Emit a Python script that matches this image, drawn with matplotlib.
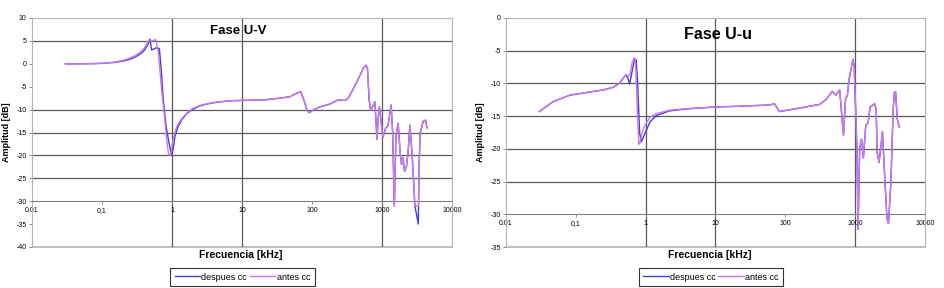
import matplotlib
matplotlib.use("Agg")
import matplotlib.pyplot as plt
import numpy as np

plt.rcParams['font.family'] = ['Liberation Sans', 'DejaVu Sans']
plt.rcParams['axes.unicode_minus'] = False

# --- Fase U-V ---
uv_f_lo_despues = [0.03, 0.05, 0.08, 0.1, 0.15, 0.2, 0.25, 0.3, 0.35, 0.4, 0.45, 0.485, 0.51,
                   0.56, 0.6, 0.66, 0.7, 0.75, 0.82, 0.89, 0.95, 0.99, 1.04, 1.1, 1.2, 1.37,
                   1.6, 1.9, 2.4, 3.1, 4.5, 7.4]
uv_lo_despues = [0.0, 0.0, 0.05, 0.1, 0.3, 0.6, 1.0, 1.5, 2.1, 2.9, 4.1, 5.4, 3.0,
                 3.3, 3.5, 3.3, -1.0, -7.9, -13.5, -16.6, -18.8, -19.9, -18.5, -15.9, -14.0, -12.3,
                 -11.0, -10.1, -9.3, -8.8, -8.35, -8.05]
uv_f_lo_antes = [0.03, 0.05, 0.08, 0.1, 0.15, 0.2, 0.25, 0.3, 0.35, 0.4, 0.44, 0.46, 0.53,
                 0.58, 0.6, 0.64, 0.71, 0.78, 0.84, 0.89, 0.94, 0.98, 1.02, 1.1, 1.17, 1.3,
                 1.45, 1.7, 2.0, 2.5, 3.2, 4.5, 7.4]
uv_lo_antes = [0.0, 0.0, 0.05, 0.1, 0.35, 0.75, 1.25, 1.8, 2.5, 3.4, 4.4, 5.0, 5.0,
               5.3, 4.6, 2.3, -5.7, -11.5, -16.6, -19.6, -20.0, -19.2, -17.0, -15.0, -13.7, -12.5,
               -11.6, -10.5, -9.7, -9.1, -8.7, -8.3, -8.05]
uv_f_hi = [10, 20, 35, 48, 63, 69, 75, 85, 91, 104, 130, 180, 235, 297, 330, 440, 540, 590,
           620, 655, 690, 730, 790, 850, 880, 920, 1030, 1130, 1220, 1350, 1420, 1500, 1580,
           1700, 1810, 1900, 2000, 2100, 2230, 2370, 2500, 2700, 2950, 3300, 3400, 3510, 3900,
           4200, 4400]
uv_hi_despues = [-8.0, -7.9, -7.5, -7.2, -6.3, -6.1, -7.5, -10.1, -10.7, -10.1, -9.4, -8.8,
                 -7.9, -8.0, -7.5, -3.9, -1.0, -0.3, -1.0, -7.9, -10.1, -9.4, -8.3, -16.5, -12.0,
                 -9.4, -16.0, -14.0, -13.5, -9.0, -15.0, -31.0, -16.0, -13.0, -19.0, -22.0, -20.5,
                 -23.5, -22.5, -19.0, -13.4, -20.0, -31.0, -35.0, -21.5, -15.0, -12.5, -12.3, -14.0]
uv_hi_antes = [-8.0, -7.9, -7.5, -7.2, -6.3, -6.1, -7.5, -10.1, -10.7, -10.1, -9.4, -8.8,
               -7.9, -8.0, -7.5, -3.9, -1.0, -0.3, -1.0, -7.9, -10.1, -9.4, -8.3, -16.5, -12.0,
               -9.4, -16.0, -14.0, -13.5, -9.0, -15.0, -31.0, -16.0, -13.0, -19.0, -22.0, -20.5,
               -23.5, -22.5, -19.0, -13.4, -20.0, -31.0, -31.0, -21.5, -15.0, -12.5, -12.3, -14.0]

# --- Fase U-u ---
uu_f_lo_despues = [0.03, 0.047, 0.082, 0.14, 0.245, 0.34, 0.42, 0.5, 0.525, 0.56, 0.59, 0.63,
                   0.66, 0.70, 0.73, 0.76, 0.78, 0.82, 0.87, 0.92, 1.0, 1.15, 1.42, 2.2, 3.8, 10]
uu_lo_despues = [-14.3, -12.8, -11.8, -11.4, -11.0, -10.6, -10.0, -8.9, -8.7, -9.3, -10.1, -8.5,
                 -7.4, -6.2, -6.4, -9.0, -12.0, -17.6, -18.9, -18.3, -17.4, -15.9, -14.9, -14.2,
                 -13.9, -13.6]
uu_f_lo_antes = [0.03, 0.047, 0.082, 0.14, 0.245, 0.34, 0.42, 0.5, 0.525, 0.56, 0.6, 0.64,
                 0.68, 0.71, 0.74, 0.77, 0.8, 0.83, 0.87, 0.92, 1.0, 1.15, 1.42, 2.2, 3.8, 10]
uu_lo_antes = [-14.3, -12.8, -11.8, -11.4, -11.0, -10.6, -10.0, -8.9, -8.6, -9.0, -8.5, -6.8,
               -6.1, -6.3, -10.5, -16.0, -19.3, -19.1, -18.0, -17.0, -16.2, -15.2, -14.6, -14.1,
               -13.85, -13.6]
uu_f_hi = [20, 59, 70, 82, 105, 175, 310, 380, 470, 530, 600, 680, 730, 770, 820, 930, 970,
           1060, 1100, 1160, 1230, 1310, 1420, 1530, 1640, 1800, 1900, 2000, 2060, 2200, 2460,
           2650, 2850, 3000, 3250, 3500, 3650, 3800, 4000, 4300]
uu_hi = [-13.5, -13.3, -13.1, -14.3, -14.1, -13.7, -13.2, -12.5, -11.2, -11.8, -11.0, -17.9,
         -12.2, -12.0, -9.3, -6.3, -7.5, -20.0, -32.3, -20.0, -18.5, -21.4, -16.4, -16.0, -13.6,
         -13.3, -13.1, -14.0, -20.5, -22.1, -17.4, -24.3, -30.6, -31.4, -25.0, -14.0, -11.3,
         -11.3, -15.4, -16.7]

decades = [0.01, 0.1, 1, 10, 100, 1000, 10000]
decade_labels = ['0.01', '0,1', '1', '10', '100', '1000', '10000']
vgrid = [1, 10, 1000]

c_despues = '#4040d0'
c_antes = '#cc77ee'
frame = '#b4b4b4'
gridc = '#5a5a5a'

fig = plt.figure(figsize=(9.45, 2.88), dpi=100)
ax1 = fig.add_axes([32 / 945, 41 / 288, 420 / 945, 229 / 288])
ax2 = fig.add_axes([506 / 945, 41 / 288, 419 / 945, 229 / 288])


def setup(ax, ylim, yticks, hgrid, title, tpos, tsize, cx):
    ax.set_xscale('log')
    ax.set_xlim(0.01, 10000)
    ax.set_ylim(*ylim)
    ax.set_xticks(decades)
    ax.set_xticklabels(decade_labels)
    ax.xaxis.set_minor_locator(matplotlib.ticker.NullLocator())
    ax.set_yticks(yticks)
    ax.tick_params(axis='both', labelsize=5, length=2, width=0.6, color='#808080', pad=2)
    for s in ['left', 'top', 'right']:
        ax.spines[s].set_color(frame)
        ax.spines[s].set_linewidth(0.8)
    ax.spines['bottom'].set_position(('data', -30))
    ax.spines['bottom'].set_color('#808080')
    ax.spines['bottom'].set_linewidth(0.8)
    ax.axhline(ylim[0], color=frame, lw=1.2, clip_on=False, zorder=1)
    for v in vgrid:
        ax.axvline(v, color=gridc, lw=0.9, zorder=1)
    for h in hgrid:
        ax.axhline(h, color=gridc, lw=0.9, zorder=1)
    ax.text(tpos[0], tpos[1], title, transform=ax.transAxes, ha='center', va='center',
            fontsize=tsize, fontweight='bold')
    ax.set_ylabel('Amplitud [dB]', fontsize=6.5, fontweight='bold')
    ax.yaxis.set_label_coords(-0.05, 0.5)
    ax.set_xlabel('Frecuencia [kHz]', fontsize=7.5, fontweight='bold')
    ax.xaxis.set_label_coords(cx, -0.015)


setup(ax1, (-40, 10), list(range(10, -45, -5)), [5, -10, -15, -20, -25],
      'Fase U-V', (0.49, 0.943), 9.5, 0.498)
setup(ax2, (-35, 0), list(range(0, -40, -5)), [-5, -10, -15, -20, -25],
      'Fase U-u', (0.506, 0.926), 11.5, 0.487)

ax1.plot(uv_f_lo_despues + uv_f_hi, uv_lo_despues + uv_hi_despues, color=c_despues,
         lw=1.0, label='despues cc', zorder=3)
ax1.plot(uv_f_lo_antes + uv_f_hi, uv_lo_antes + uv_hi_antes, color=c_antes,
         lw=1.0, label='antes cc', zorder=4)
ax2.plot(uu_f_lo_despues + uu_f_hi, uu_lo_despues + uu_hi, color=c_despues,
         lw=1.0, label='despues cc', zorder=3)
ax2.plot(uu_f_lo_antes + uu_f_hi, uu_lo_antes + uu_hi, color=c_antes,
         lw=1.0, label='antes cc', zorder=4)

for ax, cx in [(ax1, 0.501), (ax2, 0.489)]:
    leg = ax.legend(loc='upper center', bbox_to_anchor=(cx, -0.092), ncol=2, fontsize=6.5,
                    frameon=True, fancybox=False, edgecolor='black', handlelength=2.8,
                    handletextpad=0.15, columnspacing=0.3, borderpad=0.5, borderaxespad=0)
    leg.get_frame().set_linewidth(0.8)

fig.savefig('out.png', dpi=100)
